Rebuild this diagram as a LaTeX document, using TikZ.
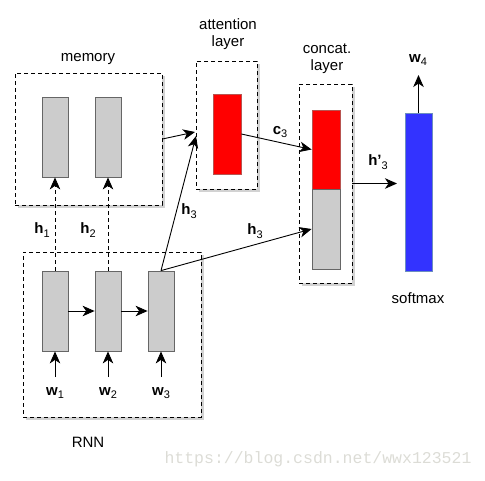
\documentclass[tikz,border=0pt]{standalone}
\usepackage{fontspec}
\setmainfont{Liberation Sans}
\newfontfamily\wmfont{Liberation Mono}
\usetikzlibrary{arrows.meta,shadows}
\definecolor{barfill}{HTML}{CCCCCC}
\definecolor{barline}{HTML}{666666}
\definecolor{redfill}{HTML}{FF0000}
\definecolor{redline}{HTML}{B85450}
\definecolor{bluefill}{HTML}{3333FF}
\definecolor{blueline}{HTML}{6C8EBF}
\definecolor{wmark}{HTML}{DCDCD6}
\newcommand\vlab[2]{\textbf{#1}\raisebox{-0.45ex}{\fontsize{11}{11}\selectfont #2}}
\begin{document}
\begin{tikzpicture}[x=1pt,y=-1pt,
  font=\fontsize{15}{17}\selectfont,
  grp/.style={draw=black, dash pattern=on 4pt off 3pt, fill=white, line width=0.8pt,
    inner sep=0pt, drop shadow={shadow xshift=2.5pt, shadow yshift=-2.5pt, fill=black!22, opacity=0.8}},
  bar/.style={draw=barline, fill=barfill, line width=0.8pt, inner sep=0pt, minimum width=26pt, minimum height=80pt},
  redbar/.style={bar, draw=redline, fill=redfill, minimum width=28pt},
  arr/.style={line width=0.9pt, -{Stealth[length=12pt,width=10.5pt,inset=3.5pt]}},
  lbl/.style={inner sep=0pt, align=center}]
\useasboundingbox (0,0) rectangle (485,480);
% group boxes
\node[grp, minimum width=147pt, minimum height=132pt] (membox) at (88.5,139) {};
\node[grp, minimum width=61pt, minimum height=128pt] (attbox) at (226.5,125) {};
\node[grp, minimum width=53pt, minimum height=199pt] (catbox) at (325.5,183.5) {};
\node[grp, minimum width=178pt, minimum height=165pt] (rnnbox) at (112,334.5) {};
% bars
\node[bar] (m1) at (55,137) {};
\node[bar] (m2) at (108,137) {};
\node[bar] (r1) at (55,311) {};
\node[bar] (r2) at (108,311) {};
\node[bar] (r3) at (161,311) {};
\node[redbar] (att) at (227,134) {};
\node[redbar, minimum height=79pt] (cr) at (326,149.5) {};
\node[bar, minimum width=28pt] (cg) at (326,229) {};
\node[bar, draw=blueline, fill=bluefill, minimum width=27pt, minimum height=158pt] (blue) at (418.5,192) {};
% titles
\node[lbl] (tmem) at (88,59) {memory};
\node[lbl] (tatt) at (228,34) {attention\\layer};
\node[lbl] (tcat) at (327,59) {concat.\\layer};
\node[lbl] (trnn) at (88,442) {RNN};
\node[lbl] (tsoft) at (418,298) {softmax};
% free ends
\coordinate (attin1) at (195,132);
\coordinate (attin2) at (196,136);
\coordinate (hout) at (397,183.5);
\coordinate (wout) at (418.5,75);
\coordinate (w1in) at (55,377);
\coordinate (w2in) at (108,377);
\coordinate (w3in) at (161,377);
% connectors
\draw[arr, dash pattern=on 4pt off 3pt] (r1.north) -- (m1.south);
\draw[arr, dash pattern=on 4pt off 3pt] (r2.north) -- (m2.south);
\draw[arr] (r1.east) -- (r2.west);
\draw[arr] (r2.east) -- (r3.west);
\draw[arr] (w1in) -- (r1.south);
\draw[arr] (w2in) -- (r2.south);
\draw[arr] (w3in) -- (r3.south);
\draw[arr] (membox.east) -- (attin1);
\draw[arr] (r3.north) -- (attin2);
\draw[arr] (att.east) -- (cr.west);
\draw[arr] (r3.north) -- (cg.west);
\draw[arr] (catbox.east) -- (hout);
\draw[arr] (blue.north) -- (wout);
% labels
\node[lbl] (lh1) at (42,230) {\vlab{h}{1}};
\node[lbl] (lh2) at (88,230) {\vlab{h}{2}};
\node[lbl] (lh3a) at (189,211) {\vlab{h}{3}};
\node[lbl] (lc3) at (280,132) {\vlab{c}{3}};
\node[lbl] (lh3b) at (255,231) {\vlab{h}{3}};
\node[lbl] (lhp) at (378,162) {\vlab{h'}{3}};
\node[lbl] (lw1) at (55,393) {\vlab{w}{1}};
\node[lbl] (lw2) at (108,393) {\vlab{w}{2}};
\node[lbl] (lw3) at (161,393) {\vlab{w}{3}};
\node[lbl] (lw4) at (418,60) {\vlab{w}{4}};
% watermark
\node[lbl, text=wmark, font=\wmfont\fontsize{16.5}{18}\selectfont] (wm) at (318,459) {https://blog.csdn.net/wwx123521};
\end{tikzpicture}
\end{document}
